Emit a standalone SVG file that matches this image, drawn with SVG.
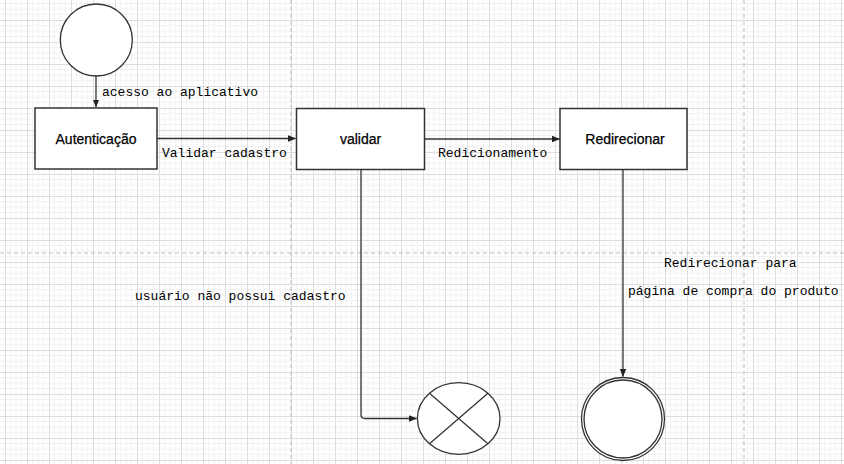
<svg xmlns="http://www.w3.org/2000/svg" width="844" height="464" viewBox="0 0 844 464">
<style>
.box{fill:#fff;stroke:#333;stroke-width:1.5}
.circ{fill:#fff;stroke:#333;stroke-width:1.3}
.edge{fill:none;stroke:#333;stroke-width:1.3}
.lbl{font-family:"Liberation Mono","Courier New",monospace;font-size:13px;fill:#000}
.ntxt{font-family:"Liberation Sans",Arial,Helvetica,sans-serif;font-size:14px;fill:#000;text-anchor:middle;stroke:#000;stroke-width:0.25}
.page{stroke:#bdbdbd;stroke-width:1;stroke-dasharray:4 3}
</style>
<defs>
<pattern id="grid" x="5" y="20" width="22" height="22" patternUnits="userSpaceOnUse">
<path d="M5.5 0V22M11 0V22M16.5 0V22M0 5.5H22M0 11H22M0 16.5H22" stroke="#f2f2f2" stroke-width="1" fill="none"/>
<path d="M0.5 0V22M0 0.5H22" stroke="#dedede" stroke-width="1" fill="none"/>
</pattern>
<marker id="arr" viewBox="0 0 8 8" refX="7.5" refY="4" markerWidth="8" markerHeight="8" markerUnits="userSpaceOnUse" orient="auto">
<path d="M0 0.8L8 4L0 7.2Z" fill="#222"/>
</marker>
</defs>
<rect width="844" height="464" fill="#fff"/>
<rect width="844" height="464" fill="url(#grid)"/>
<g id="pages">
<line class="page" x1="291" y1="0" x2="291" y2="464"/>
<line class="page" x1="744" y1="0" x2="744" y2="464"/>
<line class="page" x1="0" y1="253" x2="844" y2="253"/>
</g>
<g id="connectors">
<path class="edge" d="M96 76V107" marker-end="url(#arr)"/>
<path class="edge" d="M157 138.5H295.5" marker-end="url(#arr)"/>
<path class="edge" d="M424.5 139H559.5" marker-end="url(#arr)"/>
<path class="edge" d="M361 169.5V414.5Q361 418.5 365 418.5H416.5" marker-end="url(#arr)"/>
<path class="edge" d="M623 169.5V376.5" marker-end="url(#arr)"/>
<text class="lbl" x="102" y="96">acesso ao aplicativo</text>
<text class="lbl" x="162" y="157">Validar cadastro</text>
<text class="lbl" x="438" y="157">Redicionamento</text>
<text class="lbl" x="135" y="300">usuário não possui cadastro</text>
<text class="lbl" x="664" y="267">Redirecionar para</text>
<text class="lbl" x="628" y="295">página de compra do produto</text>
</g>
<g id="start">
<circle class="circ" cx="96.3" cy="40" r="36"/>
</g>
<g id="autenticacao">
<rect class="box" x="35" y="108" width="122" height="61"/>
<text class="ntxt" x="96" y="144">Autenticação</text>
</g>
<g id="validar">
<rect class="box" x="296.5" y="108.5" width="128" height="61"/>
<text class="ntxt" x="360.5" y="144">validar</text>
</g>
<g id="redirecionar">
<rect class="box" x="560" y="108.5" width="127" height="61"/>
<text class="ntxt" x="625" y="144">Redirecionar</text>
</g>
<g id="flowfinal">
<ellipse class="circ" cx="458.7" cy="418.5" rx="41.3" ry="35.8"/>
<path class="edge" d="M429.5 393.2L487.9 443.8M487.9 393.2L429.5 443.8"/>
</g>
<g id="end">
<circle class="circ" cx="623" cy="419" r="41.5"/>
<circle class="circ" cx="623" cy="419" r="39"/>
</g>
</svg>
